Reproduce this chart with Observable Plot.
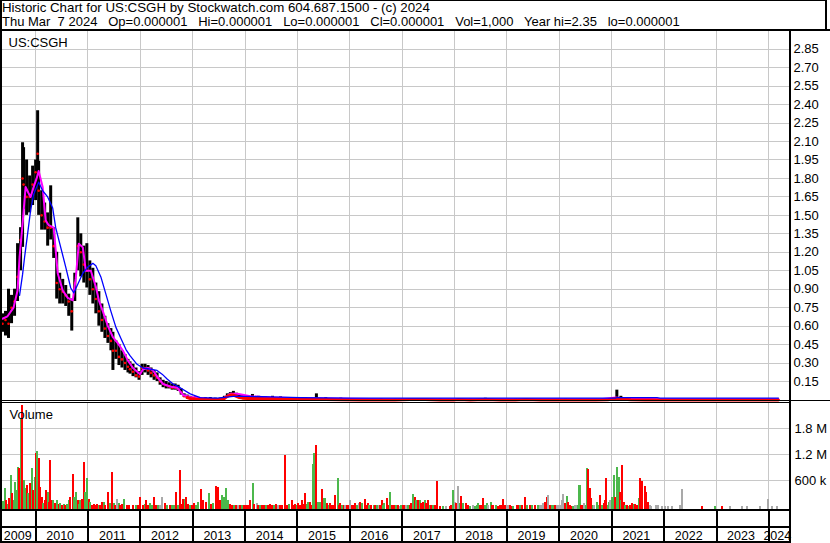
<!DOCTYPE html>
<html><head><meta charset="utf-8">
<script src="https://cdn.jsdelivr.net/npm/d3@7"></script>
<script src="https://cdn.jsdelivr.net/npm/@observablehq/plot@0.6"></script>
<style>
html,body{margin:0;padding:0;background:#fff;}
#root{position:relative;width:830px;height:543px;overflow:hidden;background:#fff;font-family:"Liberation Sans",Arial,sans-serif;color:#000;}
.ln{position:absolute;background:#000;}
.hd{position:absolute;left:2px;line-height:14px;white-space:pre;}
.pl{position:absolute;left:0;}
</style></head><body><div id="root"></div>
<script>
// ---------- text ----------
const titleLine1 = "Historic Chart for US:CSGH by Stockwatch.com 604.687.1500 - (c) 2024";
const titleLine2 = "Thu Mar  7 2024   Op=0.000001   Hi=0.000001   Lo=0.000001   Cl=0.000001   Vol=1,000   Year hi=2.35   lo=0.000001";
const symbolLabel = "US:CSGH";
const volumeLabel = "Volume";

// ---------- axes ----------
const firstWeek = "2009-05-15";      // week 0 of the weekly series
const lastDate = "2024-05-24";       // right end of the time axis
const gridYears = [2010,2011,2012,2013,2014,2015,2016,2017,2018,2019,2020,2021,2022,2023,2024];
const yearLabels = ["2009","2010","2011","2012","2013","2014","2015","2016","2017","2018","2019","2020","2021","2022","2023","2024"];
const priceTicks = [0.15,0.30,0.45,0.60,0.75,0.90,1.05,1.20,1.35,1.50,1.65,1.80,1.95,2.10,2.25,2.40,2.55,2.70,2.85];
const priceMax = 2.9937;
const volTicks = [600000, 1200000, 1800000];
const volTickLabels = ["600 k", "1.2 M", "1.8 M"];
const volMax = 2383846;

// ---------- price bars: [week, high, low, close] ----------
const price2009_2010 = [
[0,0.70,0.55,0.62],[3,0.72,0.52,0.65],[6,0.90,0.50,0.62],[9,0.85,0.62,0.75],[12,0.90,0.68,0.80],
[15,1.27,0.80,1.00],[18,1.40,1.05,1.30],[20,2.09,1.24,1.80],[21,2.05,1.55,1.75],[24,1.95,1.50,1.65],
[27,1.82,1.52,1.65],[30,1.90,1.58,1.75],[33,1.95,1.62,1.85],[35,2.35,1.75,2.00],[36,1.94,1.50,1.70],
[39,1.70,1.38,1.50],[42,1.60,1.38,1.45],[45,1.52,1.25,1.40],[48,1.74,1.30,1.40],[51,1.40,1.15,1.25],
[54,1.20,0.82,0.95],[57,1.03,0.78,0.90],[60,0.98,0.78,0.88],[63,0.93,0.76,0.85],[66,0.86,0.68,0.80],
[69,0.82,0.56,0.72],[72,1.03,0.80,0.95],[75,1.48,1.05,1.25],[78,1.35,1.00,1.20],[81,1.25,0.95,1.10],
[84,1.27,0.91,1.05]
];
const price2011_2012 = [
[87,1.13,0.85,0.98],[90,1.07,0.78,0.90],[93,0.95,0.70,0.82],[96,0.88,0.60,0.72],[99,0.78,0.55,0.65],
[102,0.68,0.50,0.58],[105,0.62,0.46,0.52],[108,0.58,0.40,0.48],[110,0.55,0.24,0.40],[113,0.48,0.33,0.40],
[116,0.45,0.28,0.35],[119,0.40,0.26,0.33],[122,0.37,0.24,0.30],[125,0.33,0.22,0.27],[127,0.31,0.21,0.25],
[130,0.29,0.19,0.23],[133,0.26,0.18,0.20],[136,0.23,0.16,0.19],[139,0.29,0.20,0.26],[142,0.29,0.22,0.26],
[145,0.28,0.20,0.24],[148,0.26,0.18,0.22],[151,0.24,0.16,0.20],[154,0.22,0.15,0.18],[157,0.18,0.12,0.15],
[160,0.16,0.10,0.13],[163,0.15,0.09,0.12],[166,0.14,0.09,0.11],[169,0.13,0.08,0.10],[172,0.13,0.08,0.10],
[175,0.12,0.07,0.09],[178,0.09,0.04,0.06],[181,0.05,0.02,0.03],[184,0.04,0.01,0.02],[187,0.03,0.005,0.012]
];
const price2013_2024 = [
[192,0.025,0.005,0.008],[197,0.02,0.003,0.006],[202,0.02,0.003,0.006],[207,0.02,0.002,0.004],[212,0.015,0.002,0.004],
[217,0.015,0.002,0.004],[221,0.03,0.005,0.012],[224,0.05,0.02,0.03],[227,0.06,0.03,0.04],[230,0.07,0.03,0.04],
[233,0.055,0.02,0.03],[236,0.04,0.015,0.02],[239,0.035,0.01,0.015],[244,0.03,0.01,0.012],[249,0.045,0.01,0.012],
[255,0.03,0.01,0.012],[262,0.025,0.008,0.01],[269,0.03,0.008,0.01],[277,0.025,0.005,0.008],[285,0.02,0.005,0.006],
[293,0.02,0.004,0.005],[302,0.02,0.004,0.005],[312.7,0.05,0.005,0.006],[322,0.02,0.003,0.004],[337,0.015,0.002,0.003],
[357,0.01,0.001,0.001],[377,0.012,0.001,0.001],[391,0.008,0.001,0.001],[406,0.012,0.001,0.004],[421,0.010,0.001,0.004],
[436,0.008,0.001,0.001],[451,0.006,0.001,0.001],[454,0.012,0.002,0.004],[466,0.008,0.001,0.001],[481,0.014,0.002,0.005],
[496,0.006,0.001,0.001],[511,0.008,0.001,0.001],[521,0.010,0.001,0.004],[536,0.006,0.001,0.001],[551,0.006,0.001,0.001],
[561,0.008,0.001,0.001],[576,0.006,0.001,0.001],[591,0.006,0.001,0.001],[603,0.010,0.002,0.002],[612,0.08,0.002,0.012],
[616,0.03,0.005,0.008],[626,0.015,0.002,0.003],[640,0.010,0.001,0.001],[655,0.005,0.001,0.001],[675,0.004,0.001,0.001],
[695,0.004,0.001,0.001],[715,0.004,0.001,0.001],[735,0.003,0.001,0.001],[755,0.003,0.001,0.001],[773,0.000001,0.000001,0.000001]
];

// ---------- moving averages: [week, value] ----------
const maShort = [
[0,0.66],[5,0.68],[11,0.75],[15,0.89],[17,1.16],[20,1.43],[23,1.73],[26,1.68],[28,1.65],[31,1.73],[34,1.80],[36,1.86],
[40,1.73],[43,1.46],[46,1.42],[51,1.40],[55,1.03],[60,0.89],[65,0.83],[70,0.81],[73,0.99],[76,1.27],[80,1.24],[83,1.05],
[88,1.05],[93,0.92],[96,0.81],[100,0.72],[105,0.60],[110,0.51],[115,0.46],[120,0.40],[125,0.32],[130,0.26],[137,0.21],
[140,0.25],[145,0.26],[150,0.24],[155,0.18],[160,0.13],[167,0.11],[174,0.10],[180,0.04],[187,0.025],[207,0.008],[219,0.01],
[227,0.05],[234,0.05],[247,0.03],[267,0.02],[297,0.015],[347,0.01],[386,0.006],[596,0.006],[611,0.02],[621,0.012],[655,0.006],[773,0.006]
];
const maLong = [
[17,0.85],[20,1.02],[22,1.16],[25,1.35],[28,1.54],[31,1.67],[36,1.77],[40,1.70],[45,1.65],[50,1.56],[53,1.40],[58,1.24],
[63,1.08],[68,0.91],[71,0.87],[75,0.94],[80,1.03],[85,1.08],[90,1.11],[93,1.09],[98,1.00],[103,0.86],[108,0.72],[113,0.59],
[118,0.50],[123,0.41],[127,0.36],[134,0.29],[140,0.26],[147,0.25],[154,0.24],[159,0.21],[164,0.17],[170,0.13],[177,0.10],
[187,0.05],[197,0.02],[214,0.016],[230,0.03],[244,0.03],[267,0.025],[297,0.02],[347,0.016],[382,0.016],[611,0.016],[612,0.02],
[652,0.02],[655,0.016],[773,0.016]
];

// ---------- volume: [week, thousands of shares, r=down g=up x=unchanged] ----------
const vol2009_2011 = [
[0,60,"r"],[1,120,"g"],[2.5,420,"g"],[4,140,"r"],[5.5,60,"g"],[7,200,"r"],[8.7,720,"g"],[10,300,"r"],[11.5,150,"g"],[13,570,"g"],
[14.7,380,"g"],[16.3,915,"g"],[17.3,880,"r"],[18.7,2030,"g"],[19.5,400,"r"],[20.3,2335,"r"],[21.5,600,"g"],[23,415,"g"],[24.7,490,"r"],
[26.3,300,"g"],[28,530,"r"],[29.7,880,"g"],[31.3,380,"r"],[33,680,"g"],[34,1220,"r"],[35.3,1280,"g"],[36.7,1110,"r"],[38,450,"r"],
[39.7,220,"r"],[41.3,70,"g"],[43,150,"r"],[44,380,"r"],[45.7,330,"g"],[47,100,"r"],[48,1070,"r"],[49.7,150,"r"],[51.3,145,"g"],
[53,70,"r"],[54.7,145,"g"],[56.3,60,"r"],[58,80,"g"],[59.7,40,"r"],[61.3,60,"g"],[63,30,"r"],[64.7,60,"g"],[66.3,145,"g"],[68,220,"r"],
[70.7,745,"r"],[72,220,"g"],[74,340,"g"],[75.3,145,"r"],[77,60,"g"],[78,145,"g"],[79.7,180,"r"],[81.3,1015,"r"],[83,340,"g"],[84.7,650,"g"],
[86.3,180,"r"],[88,110,"g"],[89.7,40,"r"],[91.3,60,"r"],[93,40,"r"],[94.7,60,"r"],[96.3,30,"g"],[98,40,"r"],[99.7,110,"r"],[101.3,110,"g"],
[103,40,"r"],[105.3,340,"r"],[107.3,70,"g"],[109.7,785,"r"],[111.3,70,"g"],[113,30,"r"],[114.7,160,"x"],[116.3,70,"g"],[118,30,"r"],
[119.7,60,"r"],[122,180,"g"],[124.7,30,"r"],[126.3,40,"g"],[127,30,"r"],[130.3,20,"r"],[133.7,40,"g"],[135.3,30,"r"]
];
const vol2012_2014 = [
[137.7,220,"r"],[140.3,30,"r"],[142,60,"g"],[143.7,145,"r"],[145.3,40,"r"],[147,70,"g"],[149,40,"g"],[151,220,"r"],[153.7,40,"r"],
[155.3,30,"g"],[157,20,"x"],[159.7,220,"x"],[162,70,"r"],[164.5,40,"g"],[167,40,"r"],[169,30,"g"],[171,40,"g"],[173.7,340,"r"],
[175.3,30,"g"],[177.3,840,"r"],[179,60,"r"],[180.3,180,"r"],[182,180,"g"],[183.7,220,"r"],[185.3,60,"r"],[187,40,"g"],[189,30,"r"],
[191,70,"r"],[193,40,"g"],[195.3,110,"g"],[198,390,"r"],[200.3,145,"r"],[203,110,"r"],[206.3,315,"g"],[208.7,60,"r"],[210.3,70,"g"],
[213,470,"r"],[215.3,450,"r"],[217,145,"r"],[218.7,260,"g"],[221,220,"g"],[223,415,"g"],[225.3,145,"g"],[227,60,"r"],[229,40,"r"],
[231,30,"g"],[233,40,"r"],[235,30,"x"],[237,30,"r"],[239,40,"g"],[241,30,"r"],[243,40,"r"],[245,30,"r"],[247,145,"r"],[249.7,530,"g"],
[251,60,"r"],[253.7,80,"x"],[255.3,40,"r"],[257,30,"g"],[259,40,"r"],[261,30,"r"],[263,40,"g"],[265,30,"r"],[267,60,"r"],[269,40,"r"],
[271,30,"g"],[273,60,"r"],[275,40,"x"],[277,30,"r"],[279,40,"r"],[282,1184,"r"],[284,30,"r"],[286,60,"g"],[288.7,145,"r"],[290.3,40,"r"],
[292,60,"r"],[293.7,30,"g"]
];
const vol2015_2017 = [
[295.3,70,"r"],[297,40,"r"],[298.7,145,"r"],[300.3,60,"r"],[302,300,"r"],[303.7,60,"g"],[305.3,110,"g"],[307,110,"r"],[308.7,40,"r"],
[310.3,976,"g"],[311.3,1223,"g"],[312.7,1415,"r"],[314.3,110,"g"],[316.3,110,"g"],[318.7,399,"r"],[320.3,200,"g"],[322,200,"g"],
[323.7,70,"r"],[325.3,40,"g"],[327,70,"r"],[328.7,30,"r"],[330.3,30,"r"],[332,261,"r"],[334.3,660,"g"],[336,40,"r"],[337,70,"r"],
[339,20,"g"],[340.3,30,"r"],[342,30,"x"],[343.7,20,"r"],[345.3,40,"r"],[347,145,"x"],[349,20,"r"],[350.3,30,"r"],[352,70,"r"],
[353.7,40,"g"],[355.3,70,"x"],[357,107,"r"],[358.7,70,"g"],[361.3,180,"r"],[363,40,"r"],[364.3,70,"r"],[366,30,"g"],[368,20,"r"],
[370.3,20,"g"],[372,20,"r"],[374,20,"g"],[376,30,"x"],[377,30,"r"],[378.7,145,"r"],[380,40,"g"],[381,70,"g"],[383.7,184,"r"],
[384.3,30,"r"],[387,338,"g"],[389,40,"r"],[391,30,"r"],[392.7,30,"g"],[394.3,30,"r"],[396,10,"x"],[397.7,20,"g"],[399.3,40,"r"],
[401,20,"r"],[402.7,30,"x"],[404.3,20,"g"],[406,40,"r"],[407.7,70,"r"],[409.3,284,"g"],[411,220,"r"],[412.7,145,"g"],[414.3,145,"r"],
[416,145,"g"],[417.7,70,"r"],[419.3,107,"r"],[421,145,"g"],[422.7,70,"r"],[424.3,145,"r"],[426,40,"g"],[427.7,40,"r"],[429.3,30,"g"],
[431,30,"r"],[433.7,591,"r"],[436,10,"r"],[439.3,10,"g"],[442.7,10,"x"],[446,10,"r"]
];
const vol2018_2020 = [
[447.7,40,"r"],[449.3,376,"g"],[451,110,"x"],[452,70,"r"],[454.3,468,"x"],[456,70,"g"],[457.7,238,"r"],[459.3,69,"g"],[462,69,"r"],
[464,30,"r"],[466,10,"g"],[469.3,20,"x"],[471,10,"g"],[473,30,"g"],[474.3,69,"g"],[476,20,"r"],[477.7,40,"r"],[479.3,184,"r"],[481,40,"g"],
[482.7,69,"g"],[484.3,40,"x"],[486.7,107,"g"],[488,40,"r"],[489.3,30,"r"],[492,20,"g"],[494.3,10,"r"],[496,20,"r"],[497.7,40,"r"],
[499.3,161,"r"],[501,40,"r"],[502.7,20,"x"],[504.3,30,"x"],[506,20,"r"],[507.7,10,"r"],[509.3,10,"g"],[512.7,20,"r"],[514.3,30,"r"],
[516,40,"g"],[517.7,30,"r"],[521,207,"r"],[523,20,"g"],[526,30,"r"],[527.7,40,"g"],[531,30,"r"],[534.3,30,"g"],[536,20,"x"],[537.7,40,"x"],
[539.3,70,"x"],[541,110,"r"],[542.7,222,"r"],[544.3,261,"x"],[546,40,"r"],[547.7,30,"g"],[549.3,40,"g"],[551,20,"r"],[552.7,20,"x"],
[554.3,30,"x"],[556,30,"x"],[557.7,145,"x"],[559.3,284,"x"],[561,70,"r"],[562.7,238,"g"],[564.3,107,"r"],[566,40,"r"],[567.7,10,"r"],
[569.3,10,"g"],[571,30,"x"],[572.7,40,"x"],[574.3,20,"g"],[575.3,492,"g"],[577,20,"r"],[578.7,40,"r"],[580,70,"x"],[581.3,20,"g"],
[582.7,891,"g"],[583.7,850,"r"],[585.3,415,"r"],[587,184,"r"],[588.7,40,"g"],[590,30,"x"],[592.7,107,"g"],[594.3,40,"g"],[595.3,261,"r"],
[597.7,30,"g"],[599.3,69,"r"],[601,145,"r"],[602,645,"r"],[603.7,40,"g"],[604.3,107,"g"],[606,145,"x"]
];
const vol2021_2024 = [
[607.7,222,"g"],[609.3,722,"g"],[611,222,"r"],[612.7,899,"g"],[614.3,668,"g"],[615.3,338,"r"],[616.5,150,"g"],[617.7,953,"r"],
[619.3,107,"r"],[621,30,"g"],[622.7,30,"r"],[624.3,10,"g"],[626,30,"r"],[627.7,70,"r"],[629.3,60,"g"],[631,60,"r"],[632.7,30,"r"],
[634.3,184,"g"],[636,645,"r"],[637.7,591,"r"],[640.3,468,"r"],[642,338,"r"],[643.7,107,"r"],[645.3,30,"x"],[647,10,"x"],[652,40,"x"],
[653.7,40,"x"],[657,10,"x"],[660.3,10,"x"],[663.7,10,"x"],[667,10,"x"],[675.3,30,"x"],[677.7,399,"x"],[697,10,"r"],[710.3,10,"g"],
[717,10,"r"],[725.3,10,"x"],[737,10,"x"],[742,10,"x"],[755.3,10,"x"],[762.7,170,"x"],[767,10,"x"],[772,10,"x"]
];

// ---------- build ----------
const colorOf = {r: "#ff0000", g: "#4cb84c", x: "#a9a9a9"};
const START = new Date(firstWeek + "T00:00:00Z").getTime();
const wkDate = w => new Date(START + w * 7 * 864e5);
const xDomain = [new Date(firstWeek + "T00:00:00Z"), new Date(lastDate + "T00:00:00Z")];
const yearStarts = gridYears.map(y => new Date(Date.UTC(y, 0, 1)));
const priceBars = [...price2009_2010, ...price2011_2012, ...price2013_2024];
const volAll = [...vol2009_2011, ...vol2012_2014, ...vol2015_2017, ...vol2018_2020, ...vol2021_2024];
const FONT = '"Liberation Sans", Arial, sans-serif';
const GRID = "#c8c8c8";
const xScale = {type: "utc", domain: xDomain, range: [2, 789], axis: null};
const baseStyle = {fontFamily: FONT, fontSize: "13px", background: "transparent", color: "#000", overflow: "visible"};

const root = document.getElementById("root");

function place(el, top) {
  el.classList.add("pl");
  el.style.top = top + "px";
  root.appendChild(el);
}

const pricePlot = Plot.plot({
  width: 830, height: 369, marginTop: 0, marginLeft: 0, marginBottom: 0, marginRight: 41,
  x: xScale,
  y: {domain: [0, priceMax], range: [368.5, 0]},
  style: baseStyle,
  marks: [
    Plot.ruleY(priceTicks, {stroke: GRID, shapeRendering: "crispEdges"}),
    Plot.ruleX(yearStarts, {stroke: GRID, shapeRendering: "crispEdges"}),
    Plot.ruleX(priceBars, {x: d => wkDate(d[0]), y1: d => d[2], y2: d => d[1], stroke: "#000", strokeWidth: 3}),
    Plot.dot(priceBars.filter(d => d[0] < 187), {x: d => wkDate(d[0]), y: d => d[3], r: 1.3, fill: "#ff0000", stroke: null}),
    Plot.line(maShort, {x: d => wkDate(d[0]), y: d => d[1], stroke: "#ff00ff", strokeWidth: 2}),
    Plot.line(priceBars.filter(d => d[0] >= 184), {x: d => wkDate(d[0]), y: d => d[3], stroke: "#ff0000", strokeWidth: 3}),
    Plot.line(maLong, {x: d => wkDate(d[0]), y: d => d[1], stroke: "#0000ff", strokeWidth: 1.3}),
    Plot.axisY(priceTicks, {anchor: "right", tickSize: 0, tickPadding: 4, tickFormat: d3.format(".2f"), label: null, fontSize: 13, fill: "#000"}),
    Plot.text([symbolLabel], {frameAnchor: "top-left", textAnchor: "start", lineAnchor: "top", dx: 8, dy: 6.5, fontSize: 13, fill: "#000"})
  ]
});
place(pricePlot, 31);

const volPlot = Plot.plot({
  width: 830, height: 106, marginTop: 0, marginLeft: 0, marginBottom: 0, marginRight: 41,
  x: xScale,
  y: {domain: [0, volMax], range: [103.3, 0]},
  color: {type: "identity"},
  style: baseStyle,
  marks: [
    Plot.ruleY(volTicks, {stroke: GRID, shapeRendering: "crispEdges"}),
    Plot.ruleX(yearStarts, {stroke: GRID, shapeRendering: "crispEdges"}),
    Plot.rect(volAll, {
      x1: d => wkDate(d[0] - 0.5), x2: d => wkDate(d[0] + 0.5),
      y1: 0, y2: d => d[1] * 1000,
      fill: d => colorOf[d[2]],
      insetLeft: -0.5, insetRight: -0.5, insetBottom: -3, shapeRendering: "crispEdges"
    }),
    Plot.axisY(volTicks, {anchor: "right", tickSize: 0, tickPadding: 5, tickFormat: d => volTickLabels[volTicks.indexOf(d)], label: null, fontSize: 13, fill: "#000"}),
    Plot.text([volumeLabel], {frameAnchor: "top-left", textAnchor: "start", lineAnchor: "top", dx: 9, dy: 6.1, fontSize: 13, fill: "#000"})
  ]
});
place(volPlot, 403);

const yearMid = yearLabels.slice(1, -1).map(y => ({y, d: new Date(Date.UTC(+y, 5, 21))}));
const axisPlot = Plot.plot({
  width: 830, height: 34, marginTop: 0, marginLeft: 0, marginBottom: 0, marginRight: 41,
  x: xScale,
  y: {domain: [0, 1], range: [34, 0], axis: null},
  style: baseStyle,
  marks: [
    Plot.ruleX(yearStarts, {stroke: "#000", strokeWidth: 2, shapeRendering: "crispEdges"}),
    Plot.text(yearMid, {x: "d", text: "y", frameAnchor: "top", lineAnchor: "top", dy: 21.4, fontSize: 12.5, fill: "#000"}),
    Plot.text([yearLabels[0]], {x: () => xDomain[0], text: d => d, frameAnchor: "top", lineAnchor: "top", textAnchor: "start", dx: 1.3, dy: 21.4, fontSize: 12.5, fill: "#000"}),
    Plot.text([yearLabels[yearLabels.length - 1]], {x: () => xDomain[1], text: d => d, frameAnchor: "top", lineAnchor: "top", textAnchor: "end", dx: 1.7, dy: 21.4, fontSize: 12.5, fill: "#000"})
  ]
});
place(axisPlot, 509);

// header text
for (const [txt, top, size] of [[titleLine1, 0, 13.3], [titleLine2, 14, 13]]) {
  const d = document.createElement("div");
  d.className = "hd"; d.style.top = (top + 1) + "px"; d.style.fontSize = size + "px"; d.textContent = txt;
  root.appendChild(d);
}

// frame lines
const lines = [
  [0, 0, 827, 1],     // top
  [825, 0, 2, 30],    // header right border
  [0, 29, 830, 2],    // header bottom
  [0, 0, 2, 543],     // left border
  [789, 31, 2, 512],  // right axis divider
  [0, 400, 830, 1],   // price/volume separator
  [0, 402, 789, 1],
  [0, 509, 789, 2],   // volume bottom
  [0, 526, 789, 2],   // row divider
  [0, 541, 789, 2]    // bottom
];
for (const [l, t, w, h] of lines) {
  const d = document.createElement("div");
  d.className = "ln";
  Object.assign(d.style, {left: l + "px", top: t + "px", width: w + "px", height: h + "px"});
  root.appendChild(d);
}
</script></body></html>
